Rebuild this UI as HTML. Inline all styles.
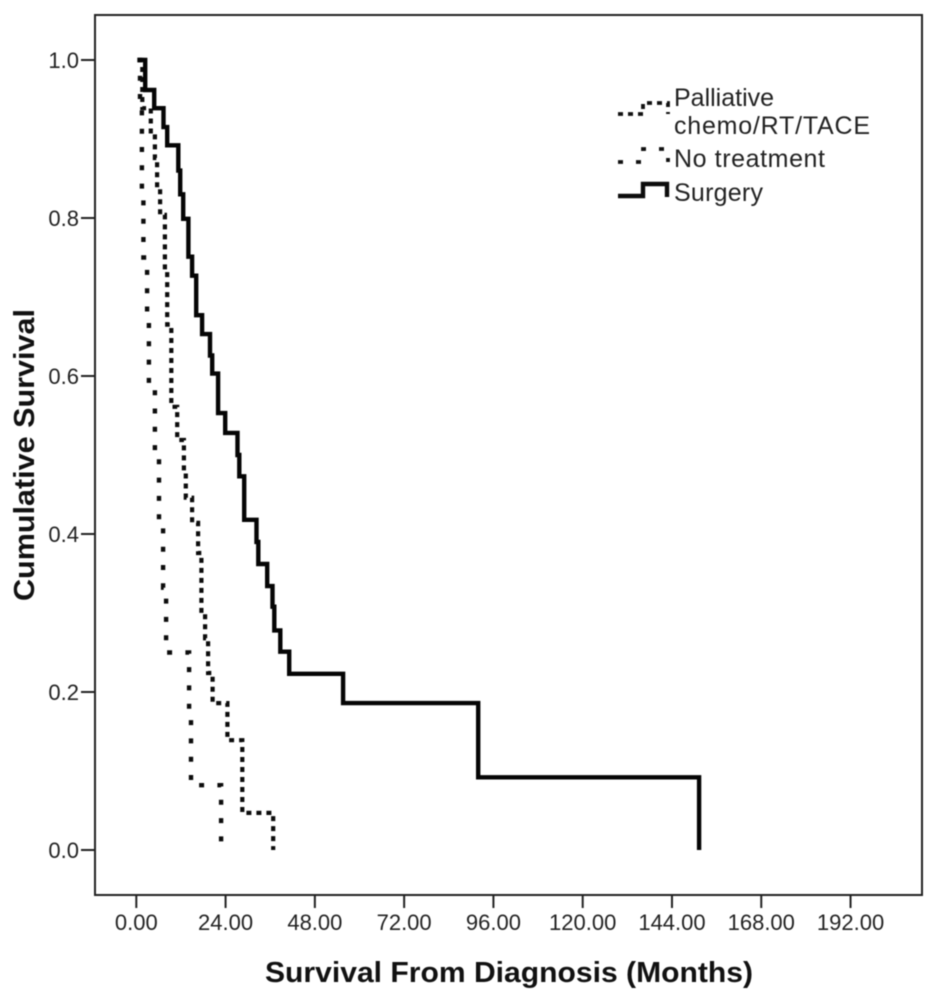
<!DOCTYPE html>
<html>
<head>
<meta charset="utf-8">
<title>Survival chart</title>
<style>
html,body{margin:0;padding:0;background:#fff;width:945px;height:994px;overflow:hidden}
svg{display:block;filter:blur(0.45px)}
text{font-family:"Liberation Sans",Arial,sans-serif;fill:#222}
</style>
</head>
<body>
<svg id="chart" width="945" height="994" viewBox="0 0 945 994" xmlns="http://www.w3.org/2000/svg">
  <rect x="95" y="15" width="827" height="880" fill="none" stroke="#222" stroke-width="2"/>
  <g id="x-axis"></g>
  <g id="y-axis"></g>
  <g id="series"></g>
  <text x="509" y="982" text-anchor="middle" font-size="29" font-weight="700" textLength="488" lengthAdjust="spacingAndGlyphs" style="fill:#111">Survival From Diagnosis (Months)</text>
  <text transform="translate(34,455) rotate(-90)" text-anchor="middle" font-size="29" font-weight="700" textLength="292" lengthAdjust="spacingAndGlyphs" style="fill:#111">Cumulative Survival</text>
  <g>
    <g>
      <path d="M618 114H643V103H668V114" fill="none" stroke="#111" stroke-width="3.8" stroke-dasharray="5 5"/>
      <text x="674" y="106" font-size="25">Palliative</text>
      <text x="674" y="134" font-size="25" textLength="196" lengthAdjust="spacing">chemo/RT/TACE</text>
    </g>
    <g>
      <path d="M618 162H643V149H668V162" fill="none" stroke="#111" stroke-width="3.8" stroke-dasharray="5 13"/>
      <text x="674" y="167" font-size="25" textLength="151" lengthAdjust="spacing">No treatment</text>
    </g>
    <g>
      <path d="M618 196H643V184H667V197" fill="none" stroke="#0c0c0c" stroke-width="4.4"/>
      <text x="674" y="201" font-size="25" textLength="89" lengthAdjust="spacing">Surgery</text>
    </g>
  </g>
</svg>
<script>
const xTicks = [0, 24, 48, 72, 96, 120, 144, 168, 192];
const yTicks = [0, 0.2, 0.4, 0.6, 0.8, 1.0];

const surgeryStart = 0.3;
const surgeryMonths = [2.4, 4.8, 7.3, 8.3, 11.3, 11.8, 12.6, 14.0, 15.0, 16.1, 17.7, 19.8, 20.4, 22.0, 23.9, 27.2, 27.7, 29.0, 32.3, 32.8, 35.2, 36.6, 37.1, 38.7, 41.1, 55.6, 91.9, 151.3];
const surgerySurvival = [0.962, 0.939, 0.915, 0.892, 0.860, 0.830, 0.799, 0.751, 0.727, 0.677, 0.653, 0.626, 0.603, 0.553, 0.528, 0.500, 0.473, 0.418, 0.390, 0.362, 0.334, 0.308, 0.278, 0.251, 0.223, 0.186, 0.092, 0.0];

const palliativeStart = 0.8;
const palliativeMonths = [1.6, 3.9, 5.0, 5.6, 6.4, 7.7, 8.3, 9.4, 11.0, 12.8, 13.3, 15.0, 16.6, 17.5, 18.5, 19.3, 20.5, 24.5, 28.5, 36.8];
const palliativeSurvival = [0.939, 0.907, 0.876, 0.839, 0.804, 0.734, 0.665, 0.561, 0.519, 0.477, 0.446, 0.414, 0.376, 0.300, 0.268, 0.224, 0.186, 0.139, 0.047, 0.0];

const noTreatmentStart = 0.3;
const noTreatmentMonths = [1.0, 1.5, 1.9, 2.9, 3.4, 5.0, 6.1, 7.2, 8.0, 14.2, 14.7, 22.8];
const noTreatmentSurvival = [0.949, 0.827, 0.750, 0.674, 0.585, 0.497, 0.413, 0.332, 0.250, 0.168, 0.082, 0.006];

const SVG_NS = 'http://www.w3.org/2000/svg';
const xScale = function (m) { return 136.3 + m * 3.72; };
const yScale = function (s) { return 850 - s * 790; };

function stepPath(start, months, survival) {
  let d = 'M' + xScale(start).toFixed(1) + ' ' + yScale(1).toFixed(1);
  for (let i = 0; i < months.length; i++) {
    d += 'H' + xScale(months[i]).toFixed(1) + 'V' + yScale(survival[i]).toFixed(1);
  }
  return d;
}

const xAxis = document.getElementById('x-axis');
xTicks.forEach(function (t) {
  const line = document.createElementNS(SVG_NS, 'line');
  
  
  line.setAttribute('x1', xScale(t));
  line.setAttribute('x2', xScale(t));
  line.setAttribute('y1', 895);
  line.setAttribute('y2', 908);
  line.setAttribute('stroke', '#222');
  line.setAttribute('stroke-width', '2');
  xAxis.appendChild(line);
  const label = document.createElementNS(SVG_NS, 'text');
  
  
  label.setAttribute('x', xScale(t));
  label.setAttribute('y', 930);
  label.setAttribute('text-anchor', 'middle');
  label.setAttribute('font-size', '22');
  label.textContent = t.toFixed(2);
  xAxis.appendChild(label);
});

const yAxis = document.getElementById('y-axis');
yTicks.forEach(function (t) {
  const line = document.createElementNS(SVG_NS, 'line');
  
  
  line.setAttribute('x1', 81);
  line.setAttribute('x2', 95);
  line.setAttribute('y1', yScale(t));
  line.setAttribute('y2', yScale(t));
  line.setAttribute('stroke', '#222');
  line.setAttribute('stroke-width', '2');
  yAxis.appendChild(line);
  const label = document.createElementNS(SVG_NS, 'text');
  
  
  label.setAttribute('x', 79);
  label.setAttribute('y', yScale(t) + 8);
  label.setAttribute('text-anchor', 'end');
  label.setAttribute('font-size', '22');
  label.textContent = t.toFixed(1);
  yAxis.appendChild(label);
});

const seriesGroup = document.getElementById('series');

const palliativeLine = document.createElementNS(SVG_NS, 'path');


palliativeLine.setAttribute('d', stepPath(palliativeStart, palliativeMonths, palliativeSurvival));
palliativeLine.setAttribute('fill', 'none');
palliativeLine.setAttribute('stroke', '#0c0c0c');
palliativeLine.setAttribute('stroke-width', '4.2');
palliativeLine.setAttribute('stroke-dasharray', '5 5');
seriesGroup.appendChild(palliativeLine);

const noTreatmentLine = document.createElementNS(SVG_NS, 'path');


noTreatmentLine.setAttribute('d', stepPath(noTreatmentStart, noTreatmentMonths, noTreatmentSurvival));
noTreatmentLine.setAttribute('fill', 'none');
noTreatmentLine.setAttribute('stroke', '#0c0c0c');
noTreatmentLine.setAttribute('stroke-width', '4.4');
noTreatmentLine.setAttribute('stroke-dasharray', '5 13.3');
seriesGroup.appendChild(noTreatmentLine);

const surgeryLine = document.createElementNS(SVG_NS, 'path');


surgeryLine.setAttribute('d', stepPath(surgeryStart, surgeryMonths, surgerySurvival));
surgeryLine.setAttribute('fill', 'none');
surgeryLine.setAttribute('stroke', '#050505');
surgeryLine.setAttribute('stroke-width', '4.4');
seriesGroup.appendChild(surgeryLine);
</script>
</body>
</html>
